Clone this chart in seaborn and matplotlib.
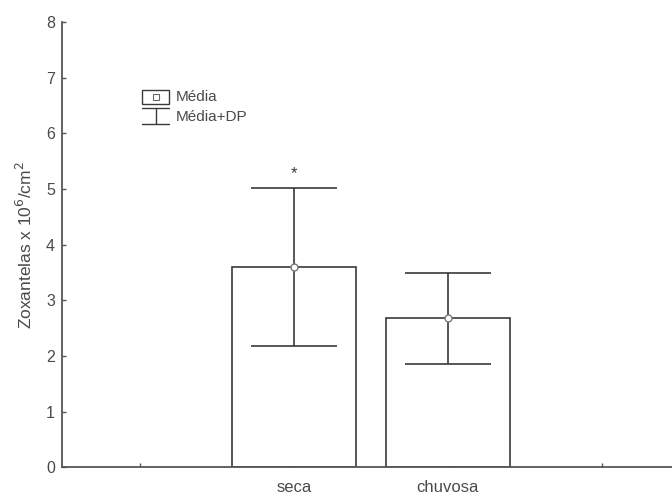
import matplotlib
matplotlib.use("Agg")
import matplotlib.pyplot as plt
import seaborn as sns
import pandas as pd

# Zooxanthellae density by season (mean and standard deviation)
seasons = ["seca", "chuvosa"]
means = [3.60, 2.68]
sds = [1.42, 0.82]
tick_labels = ["", "seca", "chuvosa", ""]
significance = ["*", ""]

sns.set_theme(style="white")
plt.rcParams["font.family"] = ["Liberation Sans", "DejaVu Sans"]

ink = "#3a3a3a"
text_col = "#4a4a4a"

fig = plt.figure(figsize=(6.72, 4.96), dpi=100)
ax = fig.add_axes([0.0923, 0.0575, 0.9077, 0.8981])

df = pd.DataFrame({"estacao": seasons, "media": means, "dp": sds})
sns.barplot(data=df, x="estacao", y="media", order=seasons, color="white",
            edgecolor=ink, linewidth=1.2, width=0.8, errorbar=None, ax=ax)
for p in ax.patches:
    p.set_facecolor("white")

xs = list(range(len(seasons)))
ax.errorbar(xs, df["media"], yerr=df["dp"], fmt="none", ecolor=ink,
            elinewidth=1.2, capsize=31, capthick=1.2, zorder=4)
ax.plot(xs, df["media"], linestyle="none", marker="o", markersize=5,
        markerfacecolor="white", markeredgecolor="#777777",
        markeredgewidth=1.0, zorder=5)

for x, m, s, mark in zip(xs, means, sds, significance):
    if mark:
        ax.text(x, m + s + 0.26, mark, ha="center", va="center",
                fontsize=12, color=ink)

ax.set_xlim(-1.506, 2.455)
ax.set_ylim(0, 8)
ax.set_xticks(range(-1, len(tick_labels) - 1))
ax.set_xticklabels(tick_labels)
ax.set_yticks(range(0, 9))
ax.set_xlabel("")
ax.set_ylabel("Zoxantelas x 10$^6$/cm$^2$", fontsize=12.5, color=text_col,
              labelpad=8)

for side in ("top", "right"):
    ax.spines[side].set_visible(False)
for side in ("left", "bottom"):
    ax.spines[side].set_color("#555555")
    ax.spines[side].set_linewidth(1.3)

ax.tick_params(axis="y", direction="in", length=3, width=1, color="#555555",
               labelsize=11.5, labelcolor=text_col, pad=5, left=True)
ax.tick_params(axis="x", direction="in", length=3, width=1, color="#555555",
               labelsize=12, labelcolor=text_col, pad=9, bottom=True)

# Key for the mean box and the mean+SD whisker
def ax_xy(px, py):
    return (px - 62) / 610.0, (467.5 - py) / 445.5

tr = ax.transAxes
x0, y0 = ax_xy(142, 90)
x1, y1 = ax_xy(169, 104)
ax.add_patch(plt.Rectangle((x0, y1), x1 - x0, y0 - y1, transform=tr,
                           facecolor="white", edgecolor=ink, linewidth=1.0,
                           clip_on=False))
cx, cy = ax_xy(155.5, 97)
ax.plot([cx], [cy], transform=tr, marker="s", markersize=4,
        markerfacecolor="white", markeredgecolor="#666666",
        markeredgewidth=0.8, clip_on=False)
capx0, capy_top = ax_xy(142, 108)
capx1, capy_bot = ax_xy(169, 124)
ax.plot([capx0, capx1], [capy_top, capy_top], transform=tr, color=ink,
        linewidth=1.0, clip_on=False)
ax.plot([cx, cx], [capy_top, capy_bot], transform=tr, color=ink,
        linewidth=1.0, clip_on=False)
ax.plot([capx0, capx1], [capy_bot, capy_bot], transform=tr, color=ink,
        linewidth=1.0, clip_on=False)
tx, ty1 = ax_xy(176, 97)
_, ty2 = ax_xy(176, 117)
ax.text(tx, ty1, "Média", transform=tr, ha="left", va="center",
        fontsize=11, color=text_col)
ax.text(tx, ty2, "Média+DP", transform=tr, ha="left", va="center",
        fontsize=11, color=text_col)

fig.savefig("out.png", dpi=100)
